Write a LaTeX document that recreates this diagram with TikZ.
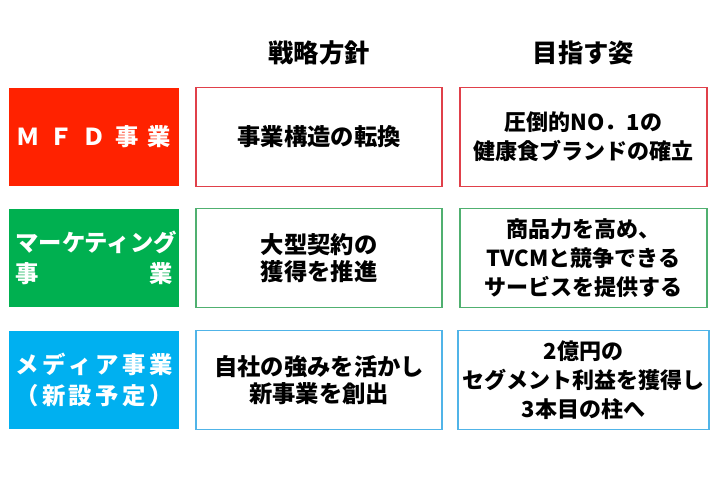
\documentclass[tikz,border=0pt]{standalone}
\usepackage{fontspec}
\setmainfont{Noto Sans CJK JP}[BoldFont=* Black]
\definecolor{mfdred}{HTML}{FF2200}
\definecolor{mktgreen}{HTML}{00B050}
\definecolor{medblue}{HTML}{00B0F0}
\definecolor{redline}{HTML}{E0404A}
\definecolor{greenline}{HTML}{50B070}
\definecolor{blueline}{HTML}{50B4E8}
\begin{document}
\begin{tikzpicture}[x = .75pt, y = -.75pt,
		label/.style = {minimum width = 127.5pt, minimum height = 73.5pt, inner sep = 0pt, text = white, font = \bfseries\fontsize{17.5}{23}\selectfont},
		plan/.style = {draw, line width = 1.1pt, minimum width = 184.5pt, minimum height = 74pt, align = center, font = \bfseries\fontsize{17.5}{20.5}\selectfont},
		goal/.style = {draw, line width = 1.1pt, minimum width = 185pt, minimum height = 74pt, align = center, font = \bfseries\fontsize{16.5}{22}\selectfont},
		head/.style = {font = \bfseries\fontsize{19}{22}\selectfont}]
	\useasboundingbox (0,0) rectangle (720,486);
	% column heads
	\node[head] (plan head) at (319,53) {戦略方針};
	\node[head] (goal head) at (583.5,53) {目指す姿};
	% MFD
	\node[label, fill = mfdred] (mfd) at (94,137) {\parbox{116pt}{Ｍ\hfill Ｆ\hfill Ｄ\hfill 事\hfill 業}};
	\node[plan, draw = redline] (mfd plan) at (319,137) {事業構造の転換};
	\node[goal, draw = redline] (mfd goal) at (583.5,137) {圧倒的NO．1の\\健康食ブランドの確立};
	% marketing
	\node[label, fill = mktgreen] (mkt) at (94,258) {\parbox{118pt}{\baselineskip=23pt マーケティング\\事\hfill 業}};
	\node[plan, draw = greenline] (mkt plan) at (319,258) {大型契約の\\獲得を推進};
	\node[goal, draw = greenline] (mkt goal) at (583.5,258) {商品力を高め、\\TVCMと競争できる\\サービスを提供する};
	% media
	\node[label, fill = medblue] (med) at (94,380) {\parbox{118pt}{\baselineskip=23pt メ\hfill デ\hfill ィ\hfill ア\hfill 事\hfill 業\\（\hfill 新\hfill 設\hfill 予\hfill 定\hfill ）}};
	\node[plan, draw = blueline] (med plan) at (319,380) {自社の強みを活かし\\新事業を創出};
	\node[goal, draw = blueline] (med goal) at (583.5,380) {2億円の\\セグメント利益を獲得し\\3本目の柱へ};
\end{tikzpicture}
\end{document}
